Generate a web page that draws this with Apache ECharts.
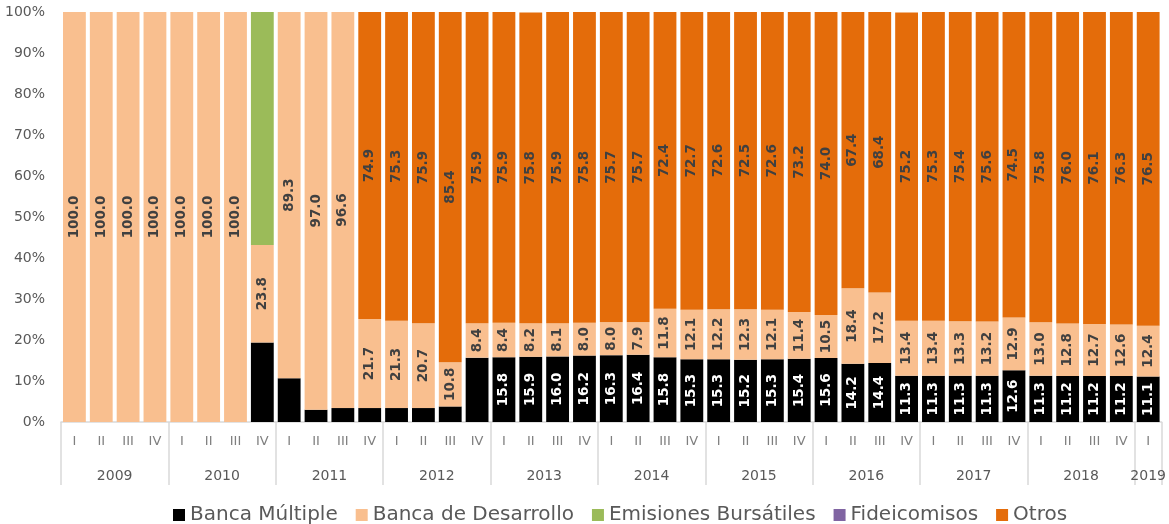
<!DOCTYPE html>
<html>
<head>
<meta charset="utf-8">
<script src="https://cdn.jsdelivr.net/npm/echarts@6/dist/echarts.min.js"></script>
<style>
  html, body { margin: 0; padding: 0; background: #fff; }
  #chart { width: 1169px; height: 524px; }
</style>
</head>
<body>
<div id="chart"></div>
<script>
const trimestres = [
  'I', 'II', 'III', 'IV', 'I', 'II', 'III', 'IV', 'I', 'II', 'III', 'IV',
  'I', 'II', 'III', 'IV', 'I', 'II', 'III', 'IV', 'I', 'II', 'III', 'IV',
  'I', 'II', 'III', 'IV', 'I', 'II', 'III', 'IV', 'I', 'II', 'III', 'IV',
  'I', 'II', 'III', 'IV', 'I',
]
const anios = ['2009', '2010', '2011', '2012', '2013', '2014', '2015', '2016', '2017', '2018', '2019']

const bancaMultiple = [
  0, 0, 0, 0, 0, 0, 0, 19.4, 10.7, 3.0, 3.4, 3.4, 3.4, 3.4, 3.8, 15.7,
  15.8, 15.9, 16.0, 16.2, 16.3, 16.4, 15.8, 15.3, 15.3, 15.2, 15.3, 15.4,
  15.6, 14.2, 14.4, 11.3, 11.3, 11.3, 11.3, 12.6, 11.3, 11.2, 11.2, 11.2, 11.1,
]
const bancaDesarrollo = [
  100.0, 100.0, 100.0, 100.0, 100.0, 100.0, 100.0, 23.8, 89.3, 97.0, 96.6,
  21.7, 21.3, 20.7, 10.8, 8.4, 8.4, 8.2, 8.1, 8.0, 8.0, 7.9, 11.8, 12.1,
  12.2, 12.3, 12.1, 11.4, 10.5, 18.4, 17.2, 13.4, 13.4, 13.3, 13.2, 12.9,
  13.0, 12.8, 12.7, 12.6, 12.4,
]
const emisionesBursatiles = [
  0, 0, 0, 0, 0, 0, 0, 56.8, 0, 0, 0, 0, 0, 0, 0, 0, 0, 0, 0, 0, 0,
  0, 0, 0, 0, 0, 0, 0, 0, 0, 0, 0, 0, 0, 0, 0, 0, 0, 0, 0, 0,
]
const fideicomisos = [
  0, 0, 0, 0, 0, 0, 0, 0, 0, 0, 0, 0, 0, 0, 0, 0, 0, 0, 0, 0, 0,
  0, 0, 0, 0, 0, 0, 0, 0, 0, 0, 0, 0, 0, 0, 0, 0, 0, 0, 0, 0,
]
const otros = [
  0, 0, 0, 0, 0, 0, 0, 0, 0, 0, 0, 74.9, 75.3, 75.9, 85.4, 75.9, 75.9,
  75.8, 75.9, 75.8, 75.7, 75.7, 72.4, 72.7, 72.6, 72.5, 72.6, 73.2, 74.0,
  67.4, 68.4, 75.2, 75.3, 75.4, 75.6, 74.5, 75.8, 76.0, 76.1, 76.3, 76.5,
]
// en el original la banca multiple solo lleva etiqueta desde 2013
const multipleConEtiqueta = bancaMultiple.map((v, i) => i >= 16)

const fuente = 'DejaVu Sans'
const gris = '#595959'

// posiciones del eje de años (cada año ocupa 4 trimestres)
const n = trimestres.length
const centrosAnio = anios.map((a, i) => Math.min(i * 4 + 2, (i * 4 + n) / 2))
const cortesAnio = anios.map((a, i) => i * 4).concat([n])

const etiqueta = color => ({
  show: true,
  position: 'inside',
  rotate: 90,
  color: color,
  fontFamily: fuente,
  fontWeight: 'bold',
  fontSize: 13.5,
  formatter: p => (p.value > 0 ? p.value.toFixed(1) : ''),
})

const chart = echarts.init(document.getElementById('chart'))
chart.setOption({
  animation: false,
  grid: { left: 61, right: 7, top: 12, bottom: 102 },
  legend: {
    left: 168,
    top: 500,
    itemWidth: 12,
    itemHeight: 12,
    itemGap: 18,
    icon: 'rect',
    textStyle: { fontFamily: fuente, fontSize: 20, color: gris },
    data: ['Banca Múltiple', 'Banca de Desarrollo', 'Emisiones Bursátiles', 'Fideicomisos', 'Otros'],
  },
  xAxis: [
    {
      type: 'category',
      data: trimestres,
      boundaryGap: true,
      axisLine: { lineStyle: { color: '#d9d9d9', width: 1.5 } },
      axisTick: { interval: 0, length: 32, lineStyle: { color: '#d9d9d9', width: 1.5 } },
      axisLabel: { interval: 0, margin: 13, fontFamily: fuente, fontSize: 13, color: '#7f7f7f' },
    },
    {
      type: 'value',
      position: 'bottom',
      min: 0,
      max: n,
      axisLine: { show: false },
      splitLine: { show: false },
      axisTick: {
        show: true,
        length: 63,
        customValues: cortesAnio,
        lineStyle: { color: '#d9d9d9', width: 1.5 },
      },
      axisLabel: {
        margin: 47,
        customValues: centrosAnio,
        formatter: v => anios[Math.floor(v / 4)],
        fontFamily: fuente,
        fontSize: 14,
        color: gris,
      },
    },
  ],
  yAxis: {
    type: 'value',
    min: 0,
    max: 100,
    interval: 10,
    axisLine: { show: false },
    axisTick: { show: false },
    splitLine: { show: false },
    axisLabel: { formatter: '{value}%', margin: 16, fontFamily: fuente, fontSize: 14, color: gris },
  },
  series: [
    {
      name: 'Banca Múltiple',
      type: 'bar',
      stack: 'total',
      barCategoryGap: '15%',
      itemStyle: { color: '#000000' },
      label: etiqueta('#ffffff'),
      data: bancaMultiple.map((v, i) => ({ value: v, label: { show: multipleConEtiqueta[i] } })),
    },
    {
      name: 'Banca de Desarrollo',
      type: 'bar',
      stack: 'total',
      itemStyle: { color: '#f9bf8f' },
      label: etiqueta('#404040'),
      data: bancaDesarrollo,
    },
    {
      name: 'Emisiones Bursátiles',
      type: 'bar',
      stack: 'total',
      itemStyle: { color: '#9bbb59' },
      data: emisionesBursatiles,
    },
    {
      name: 'Fideicomisos',
      type: 'bar',
      stack: 'total',
      itemStyle: { color: '#8064a2' },
      data: fideicomisos,
    },
    {
      name: 'Otros',
      type: 'bar',
      stack: 'total',
      itemStyle: { color: '#e46c0a' },
      label: etiqueta('#404040'),
      data: otros,
    },
  ],
})
</script>
</body>
</html>
